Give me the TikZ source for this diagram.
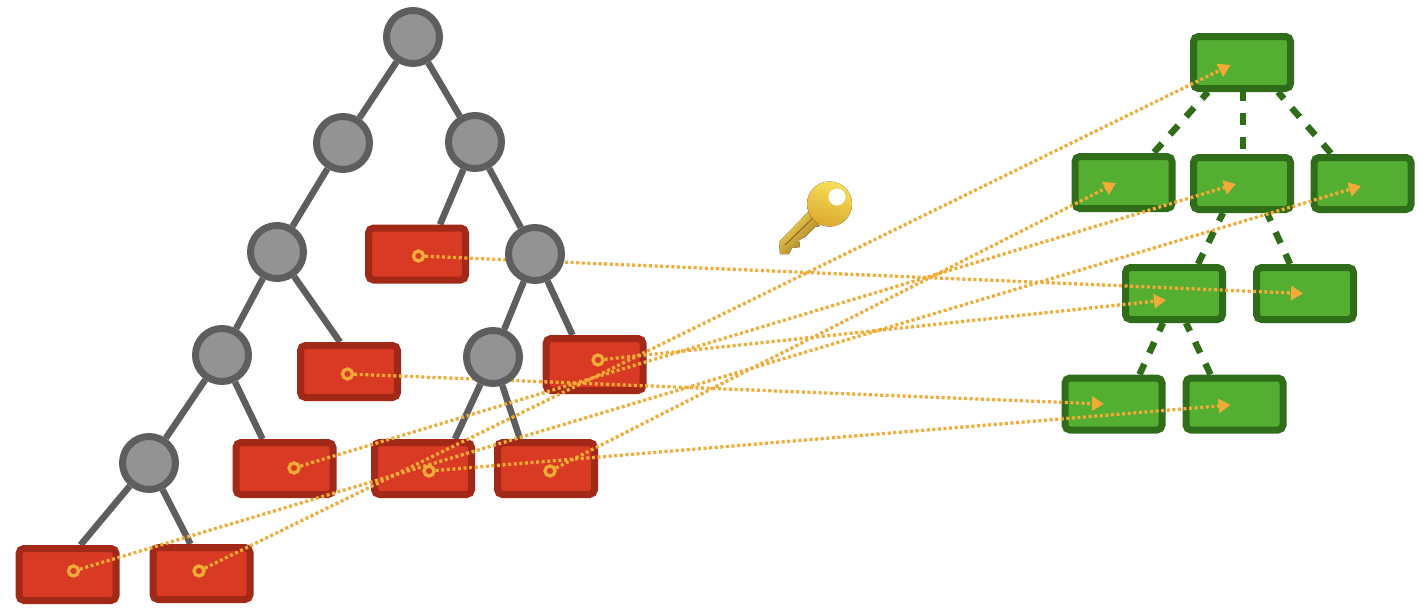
\documentclass[tikz,border=0pt]{standalone}
\usepackage{xcolor}
\usepackage{tikz}
\usetikzlibrary{arrows.meta,positioning,backgrounds}
\definecolor{nodegray}{HTML}{939393}
\definecolor{edgegray}{HTML}{5E5E5E}
\definecolor{leafred}{HTML}{D93A24}
\definecolor{leafdark}{HTML}{A22818}
\definecolor{blockgreen}{HTML}{54AE32}
\definecolor{blockdark}{HTML}{2F6D1B}
\definecolor{ptrorange}{HTML}{F2AB36}
\definecolor{keylight}{HTML}{F8DF5A}
\definecolor{keymid}{HTML}{DCA92F}
\definecolor{keydark}{HTML}{9A6E1C}
\pgfdeclarelayer{front}
\pgfsetlayers{background,main,front}
\begin{document}
\begin{tikzpicture}[
  x=1pt, y=-1pt, on grid,
  inner/.style={circle, draw=edgegray, fill=nodegray, line width=7pt, minimum size=53pt, inner sep=0pt},
  leaf/.style={rectangle, draw=leafdark, fill=leafred, line width=7pt, rounded corners=5pt,
    minimum width=97pt, minimum height=52pt, inner sep=0pt},
  block/.style={rectangle, draw=blockdark, fill=blockgreen, line width=7pt, rounded corners=5pt,
    minimum width=97pt, minimum height=52pt, inner sep=0pt},
  keydot/.style={circle, draw=ptrorange, line width=3.3pt, minimum size=10pt, inner sep=0pt},
  edge/.style={draw=edgegray, line width=6.5pt},
  link/.style={draw=blockdark, line width=6.5pt, dash pattern=on 12pt off 12pt, dash phase=3pt},
  arrow/.style={draw=ptrorange, line width=3.3pt, dash pattern=on 3pt off 2.6pt,
    -{Triangle[length=12pt,width=14pt,fill=ptrorange]}}
]
\useasboundingbox (0,0) rectangle (1423,613);
\begin{pgfonlayer}{front}
\node[inner] (n1) at (413,37) {};
\node[inner, below left=106pt and 70pt of n1] (n2) {};
\node[inner, below right=105pt and 62pt of n1] (n3) {};
\node[inner, below left=109pt and 66pt of n2] (n4) {};
\node[inner, below right=112pt and 60pt of n3] (n5) {};
\node[inner, below left=103pt and 55pt of n4] (n6) {};
\node[inner, below left=103pt and 42pt of n5] (n7) {};
\node[inner, below left=108pt and 73pt of n6] (n8) {};
\end{pgfonlayer}
\node[leaf, below left=112pt and 58pt of n3] (r1) {};
\node[leaf, below right=119.5pt and 72pt of n4] (r2) {};
\node[leaf, below right=113.5pt and 62.5pt of n6] (r3) {};
\node[leaf, below left=111.5pt and 70pt of n7] (r4) {};
\node[leaf, below right=111.5pt and 53pt of n7] (r5) {};
\node[leaf, below right=110.5pt and 59.5pt of n5] (r6) {};
\node[leaf, below left=111.5pt and 81.5pt of n8] (r7) {};
\node[leaf, below right=110.5pt and 52.5pt of n8] (r8) {};
\node[block] (g0) at (1242,62.5) {};
\node[block, below left=120pt and 118.5pt of g0] (g1) {};
\node[block, below=121pt of g0] (g2) {};
\node[block, below right=121pt and 120.5pt of g0] (g3) {};
\node[block, below left=110pt and 68pt of g2] (g4) {};
\node[block, below right=110pt and 63pt of g2] (g5) {};
\node[block, below left=110.5pt and 60.5pt of g4] (g6) {};
\node[block, below right=110.5pt and 60.5pt of g4] (g7) {};
\begin{scope}[on background layer]
\draw[edge] (n1) -- (n2);
\draw[edge] (n1) -- (n3);
\draw[edge] (n2) -- (n4);
\draw[edge] (n3) -- (n5);
\draw[edge] (n4) -- (n6);
\draw[edge] (n5) -- (n7);
\draw[edge] (n6) -- (n8);
\draw[edge] (n3) -- ([xshift=23pt]r1.north);
\draw[edge] (n4) -- ([xshift=-9pt]r2.north);
\draw[edge] (n6) -- ([xshift=-22pt]r3.north);
\draw[edge] (n7) -- ([xshift=32pt]r4.north);
\draw[edge] (n7) -- ([xshift=-26pt]r5.north);
\draw[edge] (n5) -- ([xshift=-22pt]r6.north);
\draw[edge] (n8) -- ([xshift=13pt]r7.north);
\draw[edge] (n8) -- ([xshift=-11pt]r8.north);
\draw[link] ([xshift=-34pt]g0.south) -- ([xshift=30pt]g1.north);
\draw[link] ([xshift=1pt]g0.south) -- ([xshift=1pt]g2.north);
\draw[link] ([xshift=36pt]g0.south) -- ([xshift=-31pt]g3.north);
\draw[link] ([xshift=-19pt]g2.south) -- ([xshift=24pt]g4.north);
\draw[link] ([xshift=25pt]g2.south) -- ([xshift=-15pt]g5.north);
\draw[link] ([xshift=-11pt]g4.south) -- ([xshift=26pt]g6.north);
\draw[link] ([xshift=12pt]g4.south) -- ([xshift=-24pt]g7.north);
\end{scope}
\node[keydot] (k1) at (73.5,571) {};
\node[keydot] (k2) at (199,571) {};
\node[keydot] (k3) at (294,468) {};
\node[keydot] (k4) at (347.5,374) {};
\node[keydot] (k5) at (418.5,256) {};
\node[keydot] (k6) at (429,471) {};
\node[keydot] (k7) at (550,471) {};
\node[keydot] (k8) at (598,360) {};
\coordinate (t0) at (1230.5,65);
\coordinate (t1) at (1116,183);
\coordinate (t2) at (1236,184);
\coordinate (t3) at (1361,186);
\coordinate (t4) at (1166,300);
\coordinate (t5) at (1303,293.5);
\coordinate (t6) at (1104,404);
\coordinate (t7) at (1230.5,405);
\draw[arrow] (k1) -- (t3);
\draw[arrow] (k2) -- (t0);
\draw[arrow] (k3) -- (t2);
\draw[arrow] (k4) -- (t6);
\draw[arrow] (k5) -- (t5);
\draw[arrow] (k6) -- (t7);
\draw[arrow] (k7) -- (t1);
\draw[arrow] (k8) -- (t4);
\fill[top color=keylight, bottom color=keydark, shading angle=45]
  (808,212) -- (779,242) -- (780,254) -- (789,254) -- (792,248) -- (800,247) -- (799,240) -- (805,237) -- (815,227) -- (820,226) -- cycle;
\draw[keydark, line width=1.2pt] (785,245) -- (813,218);
\fill[top color=keylight, bottom color=keymid, shading angle=-15] (829.5,204) circle (22.5);
\fill[white] (837,197) circle (8.5);
\end{tikzpicture}
\end{document}
